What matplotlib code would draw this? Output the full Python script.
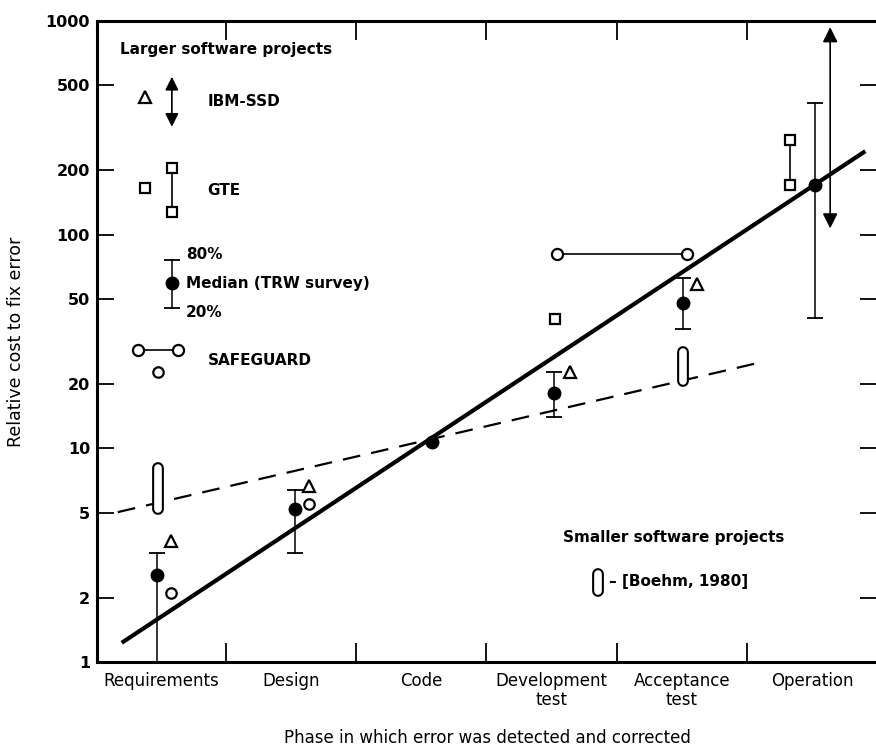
import matplotlib.pyplot as plt
import numpy as np
from matplotlib.ticker import FixedLocator, NullFormatter

plt.rcParams['font.family'] = ['DejaVu Sans']

# Phases along the x axis
phases = ["Requirements", "Design", "Code", "Development\ntest", "Acceptance\ntest", "Operation"]
y_ticks = [1, 2, 5, 10, 20, 50, 100, 200, 500, 1000]

# Median (TRW survey) with 80% / 20% range
trw_x = [-0.03, 1.03, 2.08, 3.02, 4.01, 5.02]
trw_med = [2.55, 5.2, 10.7, 18.2, 47.9, 171]
trw_hi = [3.24, 6.4, np.nan, 22.8, 62.6, 413]
trw_lo = [1.0, 3.24, np.nan, 14.0, 36.2, 40.7]
trw_cap_lo = [False, True, False, True, True, True]

# IBM-SSD triangles
ibm_x = [0.08, 1.14, 3.14, 4.12]
ibm_y = [3.7, 6.7, 22.8, 59]
# IBM-SSD range at operation
ibm_rng_x = 5.14
ibm_rng = [107, 936]

# SAFEGUARD circles
sg_x = [0.08, 1.14]
sg_y = [2.1, 5.5]
sg_rng_x = [3.04, 4.04]
sg_rng_y = 81

# GTE squares
gte_x = [3.03]
gte_y = [40.3]
gte_rng_x = 4.83
gte_rng = [171, 277]

# Smaller projects [Boehm, 1980]
boehm_x = [-0.02, 4.01]
boehm_lo = [4.93, 19.4]
boehm_hi = [8.6, 29.8]

# Trend lines (end points)
solid_x = [-0.30, 5.41]
solid_y = [1.23, 246]
dash_x = [-0.33, 4.61]
dash_y = [5.03, 25.3]

fig = plt.figure(figsize=(8.76, 7.51), dpi=100)
ax = fig.add_axes([0.1107, 0.1185, 0.8905, 0.8535])
ax.set_yscale('log')
ax.set_xlim(-0.49, 5.5)
ax.set_ylim(1, 1000)

for s in ax.spines.values():
    s.set_linewidth(2.2)

ax.yaxis.set_major_locator(FixedLocator(y_ticks))
ax.set_yticklabels([str(v) for v in y_ticks], fontsize=11.5, fontweight='bold')
ax.yaxis.set_minor_locator(FixedLocator([]))
ax.yaxis.set_minor_formatter(NullFormatter())
ax.tick_params(axis='y', which='major', direction='in', left=True, right=True,
               length=12, width=1.3, pad=5)

ax.set_xticks(range(len(phases)))
ax.set_xticklabels(phases, fontsize=12, linespacing=1.1)
ax.xaxis.set_minor_locator(FixedLocator(np.arange(0.5, 5, 1)))
ax.tick_params(axis='x', which='major', length=0, pad=7)
ax.tick_params(axis='x', which='minor', direction='in', top=True, bottom=True,
               length=14, width=1.3)

ax.set_ylabel("Relative cost to fix error", fontsize=12.5)
ax.set_xlabel("Phase in which error was detected and corrected", fontsize=12)
ax.yaxis.set_label_coords(-0.092, 0.5)
ax.xaxis.set_label_coords(0.5, -0.105)

# trend lines
ax.plot(solid_x, solid_y, color='black', lw=3, solid_capstyle='butt', zorder=3)
ax.plot(dash_x, dash_y, color='black', lw=1.6, linestyle=(0, (8, 5)), zorder=3)

# TRW median and ranges
for x, m, hi, lo, cap in zip(trw_x, trw_med, trw_hi, trw_lo, trw_cap_lo):
    if not np.isnan(hi):
        ax.plot([x, x], [lo, hi], color='black', lw=1.1, zorder=4)
        ax.plot([x], [hi], marker='_', ms=12, mew=1.3, color='black', zorder=4)
        if cap:
            ax.plot([x], [lo], marker='_', ms=12, mew=1.3, color='black', zorder=4)
    ax.plot([x], [m], marker='o', ms=9, color='black', zorder=5)

# IBM-SSD
ax.plot(ibm_x, ibm_y, linestyle='none', marker='^', ms=8, mfc='white',
        mec='black', mew=1.6, zorder=5)
ax.annotate('', xy=(ibm_rng_x, ibm_rng[1]), xytext=(ibm_rng_x, ibm_rng[0]),
            arrowprops=dict(arrowstyle='<|-|>,head_length=0.9,head_width=0.45',
                            color='black', lw=1.2, shrinkA=0, shrinkB=0), zorder=5)

# SAFEGUARD
ax.plot(sg_x, sg_y, linestyle='none', marker='o', ms=7.5, mfc='white',
        mec='black', mew=1.6, zorder=5)
ax.plot(sg_rng_x, [sg_rng_y, sg_rng_y], color='black', lw=1.2, marker='o', ms=8,
        mfc='white', mec='black', mew=1.6, zorder=5)

# GTE
ax.plot(gte_x, gte_y, linestyle='none', marker='s', ms=7, mfc='white',
        mec='black', mew=1.6, zorder=5)
ax.plot([gte_rng_x, gte_rng_x], gte_rng, color='black', lw=1.2, marker='s', ms=7,
        mfc='white', mec='black', mew=1.6, zorder=5)

# Boehm 1980 ovals
for x, lo, hi in zip(boehm_x, boehm_lo, boehm_hi):
    ax.plot([x, x], [lo * 1.06, hi / 1.06], color='black', lw=8.5,
            solid_capstyle='round', zorder=4)
    ax.plot([x, x], [lo * 1.06, hi / 1.06], color='white', lw=5.5,
            solid_capstyle='round', zorder=4)

# legend block (upper left), drawn in axes fractions
T = ax.transAxes
tkw = dict(transform=T, fontsize=11, fontweight='bold', va='center', ha='left')
ax.text(0.0295, 0.956, "Larger software projects", **tkw)

ax.plot([0.0615], [0.881], marker='^', ms=8, mfc='white', mec='black', mew=1.6,
        transform=T, clip_on=False)
ax.annotate('', xy=(0.096, 0.913), xytext=(0.096, 0.835), xycoords=T, textcoords=T,
            arrowprops=dict(arrowstyle='<|-|>,head_length=0.8,head_width=0.4',
                            color='black', lw=1.2, shrinkA=0, shrinkB=0))
ax.text(0.142, 0.875, "IBM-SSD", **tkw)

ax.plot([0.0615], [0.739], marker='s', ms=7, mfc='white', mec='black', mew=1.6,
        transform=T)
ax.plot([0.096, 0.096], [0.771, 0.702], color='black', lw=1.2, marker='s', ms=7,
        mfc='white', mec='black', mew=1.6, transform=T)
ax.text(0.142, 0.736, "GTE", **tkw)

ax.plot([0.096, 0.096], [0.552, 0.627], color='black', lw=1.1, transform=T)
ax.plot([0.096, 0.096], [0.552, 0.627], linestyle='none', marker='_', ms=12,
        mew=1.3, color='black', transform=T)
ax.plot([0.096], [0.591], marker='o', ms=9, color='black', transform=T)
ax.text(0.114, 0.636, "80%", **tkw)
ax.text(0.114, 0.591, "Median (TRW survey)", **tkw)
ax.text(0.114, 0.546, "20%", **tkw)

ax.plot([0.0526, 0.104], [0.487, 0.487], color='black', lw=1.2, marker='o', ms=8,
        mfc='white', mec='black', mew=1.6, transform=T)
ax.plot([0.078], [0.452], marker='o', ms=7.5, mfc='white', mec='black', mew=1.6,
        transform=T)
ax.text(0.142, 0.471, "SAFEGUARD", **tkw)

# smaller projects note
ax.text(0.597, 0.195, "Smaller software projects", **tkw)
ax.plot([0.642, 0.642], [0.110, 0.137], color='black', lw=8.5,
        solid_capstyle='round', transform=T)
ax.plot([0.642, 0.642], [0.110, 0.137], color='white', lw=5.5,
        solid_capstyle='round', transform=T)
ax.text(0.656, 0.126, "\u2013 [Boehm, 1980]", **tkw)

plt.savefig("out.png", dpi=100)
plt.close()
